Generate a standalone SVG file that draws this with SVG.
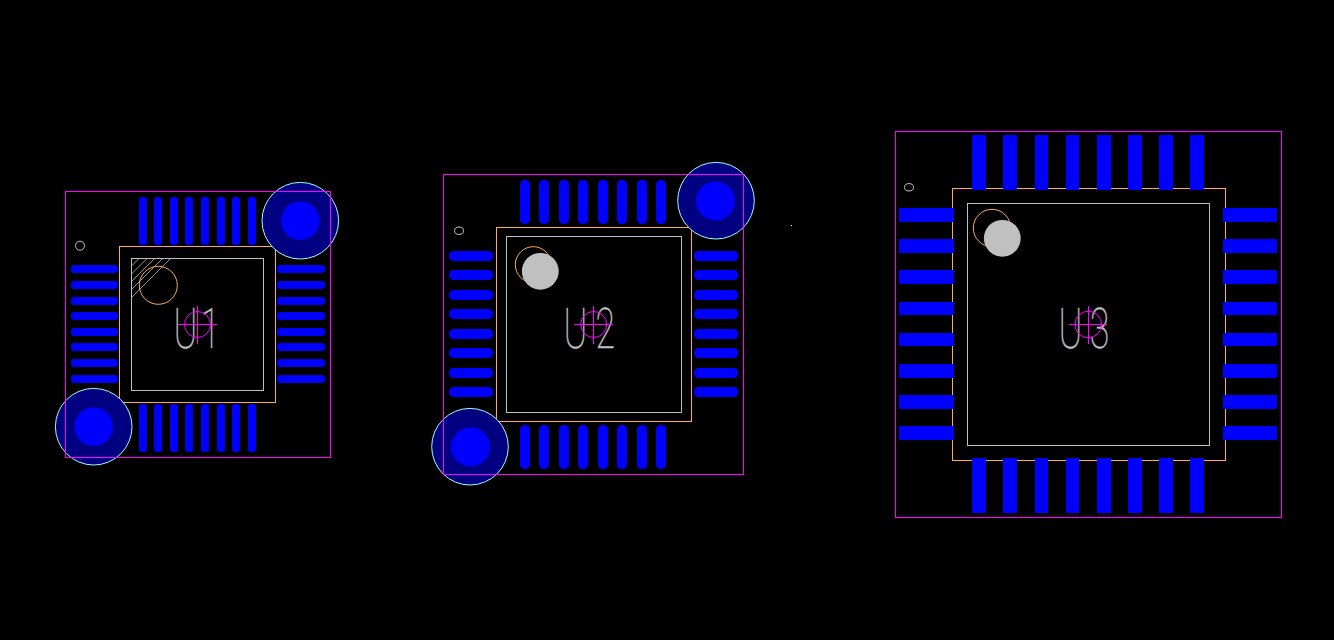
<svg xmlns="http://www.w3.org/2000/svg" width="1334" height="640" viewBox="0 0 1334 640">
<style>
.frame{fill:none;stroke:#ff00ff;stroke-width:1}
.body{fill:none;stroke:#ffaa55;stroke-width:1}
.inner{fill:none;stroke:#c0c0c0;stroke-width:1}
.pin1{fill:none;stroke:#ffaa55;stroke-width:1}
.dot{fill:none;stroke:#c0c0c0;stroke-width:1}
.disc{fill:#c0c0c0}
.pad{fill:#0000ff}
.via{fill:#000080;stroke:#99ffff;stroke-width:1}
.drill{fill:#0000ff}
.mark{fill:none;stroke:#ff00ff;stroke-width:1}
.hatch{fill:none;stroke:#c0c0c0;stroke-width:.8}
.ref{font-family:"Roboto","Liberation Sans",sans-serif;font-weight:100;font-size:55px;fill:#c0c0c0;stroke:#c0c0c0;stroke-width:.5}
</style>
<rect width="1334" height="640" fill="#000"/>
<g id="U1">
<g class="pad">
<rect x="139" y="197" width="8" height="48" rx="3"/><rect x="154" y="197" width="8" height="48" rx="3"/><rect x="170" y="197" width="8" height="48" rx="3"/><rect x="185" y="197" width="8" height="48" rx="3"/><rect x="201" y="197" width="8" height="48" rx="3"/><rect x="217" y="197" width="8" height="48" rx="3"/><rect x="232" y="197" width="8" height="48" rx="3"/><rect x="248" y="197" width="8" height="48" rx="3"/>
<rect x="139" y="404" width="8" height="48" rx="3"/><rect x="154" y="404" width="8" height="48" rx="3"/><rect x="170" y="404" width="8" height="48" rx="3"/><rect x="185" y="404" width="8" height="48" rx="3"/><rect x="201" y="404" width="8" height="48" rx="3"/><rect x="217" y="404" width="8" height="48" rx="3"/><rect x="232" y="404" width="8" height="48" rx="3"/><rect x="248" y="404" width="8" height="48" rx="3"/>
<rect x="71" y="265" width="47" height="8" rx="3"/><rect x="71" y="281" width="47" height="8" rx="3"/><rect x="71" y="297" width="47" height="8" rx="3"/><rect x="71" y="312" width="47" height="8" rx="3"/><rect x="71" y="328" width="47" height="8" rx="3"/><rect x="71" y="343" width="47" height="8" rx="3"/><rect x="71" y="359" width="47" height="8" rx="3"/><rect x="71" y="375" width="47" height="8" rx="3"/>
<rect x="277" y="265" width="48" height="8" rx="3"/><rect x="277" y="281" width="48" height="8" rx="3"/><rect x="277" y="297" width="48" height="8" rx="3"/><rect x="277" y="312" width="48" height="8" rx="3"/><rect x="277" y="328" width="48" height="8" rx="3"/><rect x="277" y="343" width="48" height="8" rx="3"/><rect x="277" y="359" width="48" height="8" rx="3"/><rect x="277" y="375" width="48" height="8" rx="3"/>
</g>
<rect class="frame" x="65.500" y="191.500" width="265" height="266"/>
<rect class="body" x="119.500" y="246.500" width="156" height="156"/>
<rect class="inner" x="131.500" y="258.500" width="132" height="132"/>
<path class="hatch" d="M131.500 266L139 258.500M131.500 274L147 258.500M131.500 281.500L154.500 258.500M131.500 289.500L162.500 258.500M131.500 297.500L170.500 258.500"/>
<circle class="pin1" cx="158.300" cy="285.300" r="19"/>
<circle class="dot" cx="80" cy="245.700" r="4.500"/>
<circle class="via" cx="300.300" cy="220.700" r="38.300"/><circle class="drill" cx="300.300" cy="220.700" r="19.300"/>
<circle class="via" cx="93.700" cy="426.700" r="38.300"/><circle class="drill" cx="93.700" cy="426.700" r="19.300"/>
<path class="frame" d="M330.500 191.500V457.500H65.500V191.500H330.500"/>
<text class="ref" transform="translate(173.500,347.500) scale(.65,1)" x="0 41.700">U1</text>
<circle class="mark" cx="197.500" cy="324.500" r="13"/><path class="mark" d="M178 324.500H217M197.500 306V344"/>
</g>
<g id="U2">
<g class="pad">
<rect x="520" y="180" width="10" height="44" rx="4.500"/><rect x="539" y="180" width="10" height="44" rx="4.500"/><rect x="559" y="180" width="10" height="44" rx="4.500"/><rect x="578" y="180" width="10" height="44" rx="4.500"/><rect x="598" y="180" width="10" height="44" rx="4.500"/><rect x="617" y="180" width="10" height="44" rx="4.500"/><rect x="637" y="180" width="10" height="44" rx="4.500"/><rect x="656" y="180" width="10" height="44" rx="4.500"/>
<rect x="520" y="425" width="10" height="44" rx="4.500"/><rect x="539" y="425" width="10" height="44" rx="4.500"/><rect x="559" y="425" width="10" height="44" rx="4.500"/><rect x="578" y="425" width="10" height="44" rx="4.500"/><rect x="598" y="425" width="10" height="44" rx="4.500"/><rect x="617" y="425" width="10" height="44" rx="4.500"/><rect x="637" y="425" width="10" height="44" rx="4.500"/><rect x="656" y="425" width="10" height="44" rx="4.500"/>
<rect x="449" y="251" width="44" height="10" rx="4.500"/><rect x="449" y="270" width="44" height="10" rx="4.500"/><rect x="449" y="290" width="44" height="10" rx="4.500"/><rect x="449" y="309" width="44" height="10" rx="4.500"/><rect x="449" y="329" width="44" height="10" rx="4.500"/><rect x="449" y="348" width="44" height="10" rx="4.500"/><rect x="449" y="368" width="44" height="10" rx="4.500"/><rect x="449" y="387" width="44" height="10" rx="4.500"/>
<rect x="694" y="251" width="44" height="10" rx="4.500"/><rect x="694" y="270" width="44" height="10" rx="4.500"/><rect x="694" y="290" width="44" height="10" rx="4.500"/><rect x="694" y="309" width="44" height="10" rx="4.500"/><rect x="694" y="329" width="44" height="10" rx="4.500"/><rect x="694" y="348" width="44" height="10" rx="4.500"/><rect x="694" y="368" width="44" height="10" rx="4.500"/><rect x="694" y="387" width="44" height="10" rx="4.500"/>
</g>
<rect class="body" x="496.500" y="227.500" width="195" height="194"/>
<rect class="inner" x="506.500" y="236.500" width="175" height="176"/>
<circle class="pin1" cx="533.300" cy="264.700" r="18"/>
<circle class="disc" cx="540.300" cy="271.300" r="18.400"/>
<ellipse class="dot" cx="459" cy="230.700" rx="4.500" ry="3.700"/>
<circle class="via" cx="716" cy="200.700" r="38.300"/><circle class="drill" cx="715.500" cy="201" r="19.500"/>
<circle class="via" cx="470" cy="446.700" r="38.300"/><circle class="drill" cx="470.500" cy="447" r="19.500"/>
<rect class="frame" x="443.500" y="174.500" width="300" height="300"/>
<text class="ref" transform="translate(563.500,347.500) scale(.65,1)" x="0 49.200">U2</text>
<circle class="mark" cx="593.700" cy="324.500" r="13"/><path class="mark" d="M574 324.500H613M593.500 306V344"/>
</g>
<g id="U3">
<rect class="frame" x="895.500" y="131.500" width="386" height="386"/>
<rect class="body" x="952.500" y="188.500" width="273" height="272"/>
<g class="pad">
<rect x="972" y="135" width="14" height="55"/><rect x="1003" y="135" width="14" height="55"/><rect x="1035" y="135" width="13" height="55"/><rect x="1066" y="135" width="13" height="55"/><rect x="1097" y="135" width="14" height="55"/><rect x="1128" y="135" width="14" height="55"/><rect x="1159" y="135" width="14" height="55"/><rect x="1190" y="135" width="14" height="55"/>
<rect x="972" y="458" width="14" height="55"/><rect x="1003" y="458" width="14" height="55"/><rect x="1035" y="458" width="13" height="55"/><rect x="1066" y="458" width="13" height="55"/><rect x="1097" y="458" width="14" height="55"/><rect x="1128" y="458" width="14" height="55"/><rect x="1159" y="458" width="14" height="55"/><rect x="1190" y="458" width="14" height="55"/>
<rect x="899" y="208" width="55" height="14"/><rect x="899" y="239" width="55" height="14"/><rect x="899" y="270" width="55" height="14"/><rect x="899" y="302" width="55" height="13"/><rect x="899" y="333" width="55" height="13"/><rect x="899" y="364" width="55" height="14"/><rect x="899" y="395" width="55" height="14"/><rect x="899" y="426" width="55" height="14"/>
<rect x="1223" y="208" width="54" height="14"/><rect x="1223" y="239" width="54" height="14"/><rect x="1223" y="270" width="54" height="14"/><rect x="1223" y="302" width="54" height="13"/><rect x="1223" y="333" width="54" height="13"/><rect x="1223" y="364" width="54" height="14"/><rect x="1223" y="395" width="54" height="14"/><rect x="1223" y="426" width="54" height="14"/>
</g>
<rect class="inner" x="967.500" y="203.500" width="242" height="242"/>
<circle class="pin1" cx="992" cy="228" r="18.700"/>
<circle class="disc" cx="1002.300" cy="238.300" r="18.400"/>
<ellipse class="dot" cx="909" cy="187.300" rx="4.500" ry="3.700"/>
<text class="ref" transform="translate(1058.500,347.500) scale(.65,1)" x="0 48">U3</text>
<circle class="mark" cx="1088.300" cy="324.500" r="13.300"/><path class="mark" d="M1069 324.500H1107M1088.500 306V344"/>
</g>
<rect id="speck" x="791" y="225" width="1" height="1" fill="#ffffff"/>
</svg>
